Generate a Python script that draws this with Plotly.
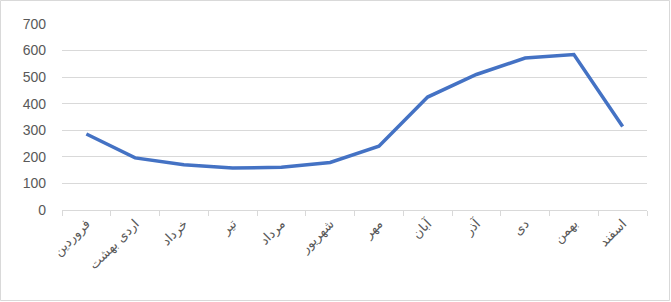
import plotly.graph_objects as go

months = ["فروردین", "اردی بهشت", "خرداد", "تیر", "مرداد", "شهریور",
          "مهر", "آبان", "آذر", "دی", "بهمن", "اسفند"]
values = [286, 196, 170, 158, 161, 179, 240, 425, 510, 572, 585, 314]
y_ticks = [0, 100, 200, 300, 400, 500, 600, 700]

W, H = 671, 302
L, R, T, B = 62, 24, 24, 92

fig = go.Figure()
fig.add_trace(go.Scatter(
    x=months, y=values, mode="lines",
    line=dict(color="#4472C4", width=3.5),
    hoverinfo="skip",
))

font = dict(family="Liberation Sans, Arial, DejaVu Sans", size=14, color="#595959")

fig.update_layout(
    width=W, height=H,
    margin=dict(l=L, r=R, t=T, b=B),
    paper_bgcolor="white", plot_bgcolor="white",
    showlegend=False,
    font=font,
    xaxis=dict(
        type="category", tickangle=-45, tickfont=dict(family="DejaVu Sans, Liberation Sans", size=13, color="#595959"),
        showgrid=False, showline=True, linecolor="#D9D9D9", linewidth=1,
        ticks="outside", ticklen=5, tickcolor="#D9D9D9", tickson="boundaries",
        range=[-0.5, 11.5], zeroline=False,
    ),
    yaxis=dict(
        range=[0, 700], tickvals=y_ticks, showgrid=True, gridcolor="#D9D9D9",
        gridwidth=1, zeroline=False, showline=False, ticks="",
        ticklabelstandoff=15, tickfont=font,
    ),
    shapes=[dict(
        type="rect", xref="paper", yref="paper",
        x0=-(L - 0.5) / (W - L - R), x1=1 + (R - 1.5) / (W - L - R),
        y0=-(B - 1.5) / (H - T - B), y1=1 + (T - 0.5) / (H - T - B),
        line=dict(color="#D9D9D9", width=1), fillcolor="rgba(0,0,0,0)", layer="below",
    )],
)

fig.write_html("out.html")
